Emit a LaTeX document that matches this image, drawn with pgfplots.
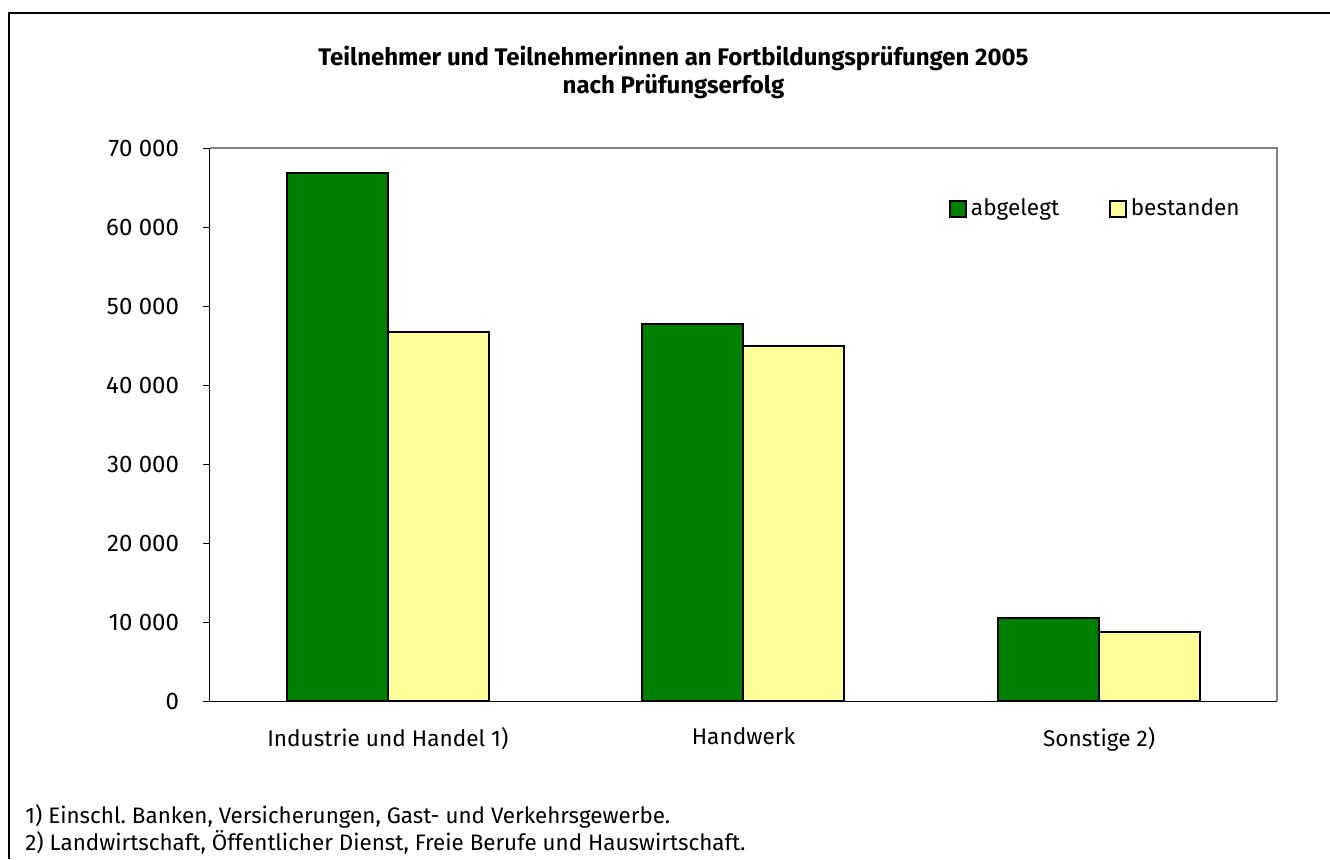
\documentclass[border=0pt]{standalone}
\usepackage{fontspec}
\setmainfont{Fira Sans}
\usepackage{pgfplots}
\pgfplotsset{compat=1.18}
\definecolor{bargreen}{RGB}{0,128,0}
\definecolor{baryellow}{RGB}{255,255,153}
\frenchspacing
\begin{document}
\begin{tikzpicture}
\path[use as bounding box] (0pt,0pt) rectangle (665pt,-429.5pt);
\draw[line width=1pt] (4.25pt,-429.5pt) -- (4.25pt,-6.5pt) -- (665pt,-6.5pt);
\node[font=\bfseries\fontsize{12}{14}\selectfont, align=center] at (336.75pt,-36pt)
  {Teilnehmer und Teilnehmerinnen an Fortbildungsprüfungen 2005\\nach Prüfungserfolg};
\node[anchor=base west, font=\fontsize{11.2}{14}\selectfont, inner sep=0pt] at (12.5pt,-411.5pt)
  {1) Einschl. Banken, Versicherungen, Gast- und Verkehrsgewerbe.};
\node[anchor=base west, font=\fontsize{11.2}{14}\selectfont, inner sep=0pt] at (12.5pt,-425pt)
  {2) Landwirtschaft, Öffentlicher Dienst, Freie Berufe und Hauswirtschaft.};
\begin{axis}[
  at={(105pt,-350.5pt)}, anchor=south west,
  scale only axis, width=533.5pt, height=276.5pt,
  ybar=0pt, bar width=50.5pt,
  xmin=-0.5, xmax=2.5, ymin=0, ymax=70000,
  xtick={0,1,2},
  xticklabels={Industrie und Handel 1), Handwerk, Sonstige 2)},
  major x tick style={draw=none},
  extra x ticks={-0.5,0.5,1.5,2.5},
  extra x tick labels={},
  extra x tick style={major tick length=4pt, tick style={black, line width=0.5pt}},
  ytick={0,10000,...,70000},
  tick align=outside,
  major tick length=3.5pt,
  tick style={black, line width=0.5pt},
  scaled y ticks=false,
  /pgf/number format/.cd, 1000 sep={\ }, assume math mode=true,
  /pgfplots/.cd,
  xticklabel style={font=\fontsize{11.3}{13}\selectfont, yshift=-6pt},
  yticklabel style={font=\fontsize{12}{13}\selectfont, xshift=-8.5pt},
  axis x line*=bottom, axis y line*=left,
  axis line style={black, line width=0.5pt, -},
  after end axis/.code={
    \draw[gray, line width=0.6pt] (rel axis cs:0,1) -- (rel axis cs:1,1) -- (rel axis cs:1,0);
  },
  legend style={at={(0.6926,0.8897)}, anchor=west, draw=none, fill=none,
    font=\fontsize{11.3}{13}\selectfont, inner sep=0pt,
    /tikz/every even column/.append style={column sep=23pt}},
  legend columns=2,
  legend image code/.code={\draw[#1, line width=0.8pt] (0pt,-4pt) rectangle (8pt,4pt);},
]
\addplot[fill=bargreen, draw=black, line width=1pt] coordinates {(0,66900) (1,47700) (2,10500)};
\addplot[fill=baryellow, draw=black, line width=1pt] coordinates {(0,46700) (1,44950) (2,8700)};
\legend{abgelegt, bestanden}
\end{axis}
\end{tikzpicture}
\end{document}
